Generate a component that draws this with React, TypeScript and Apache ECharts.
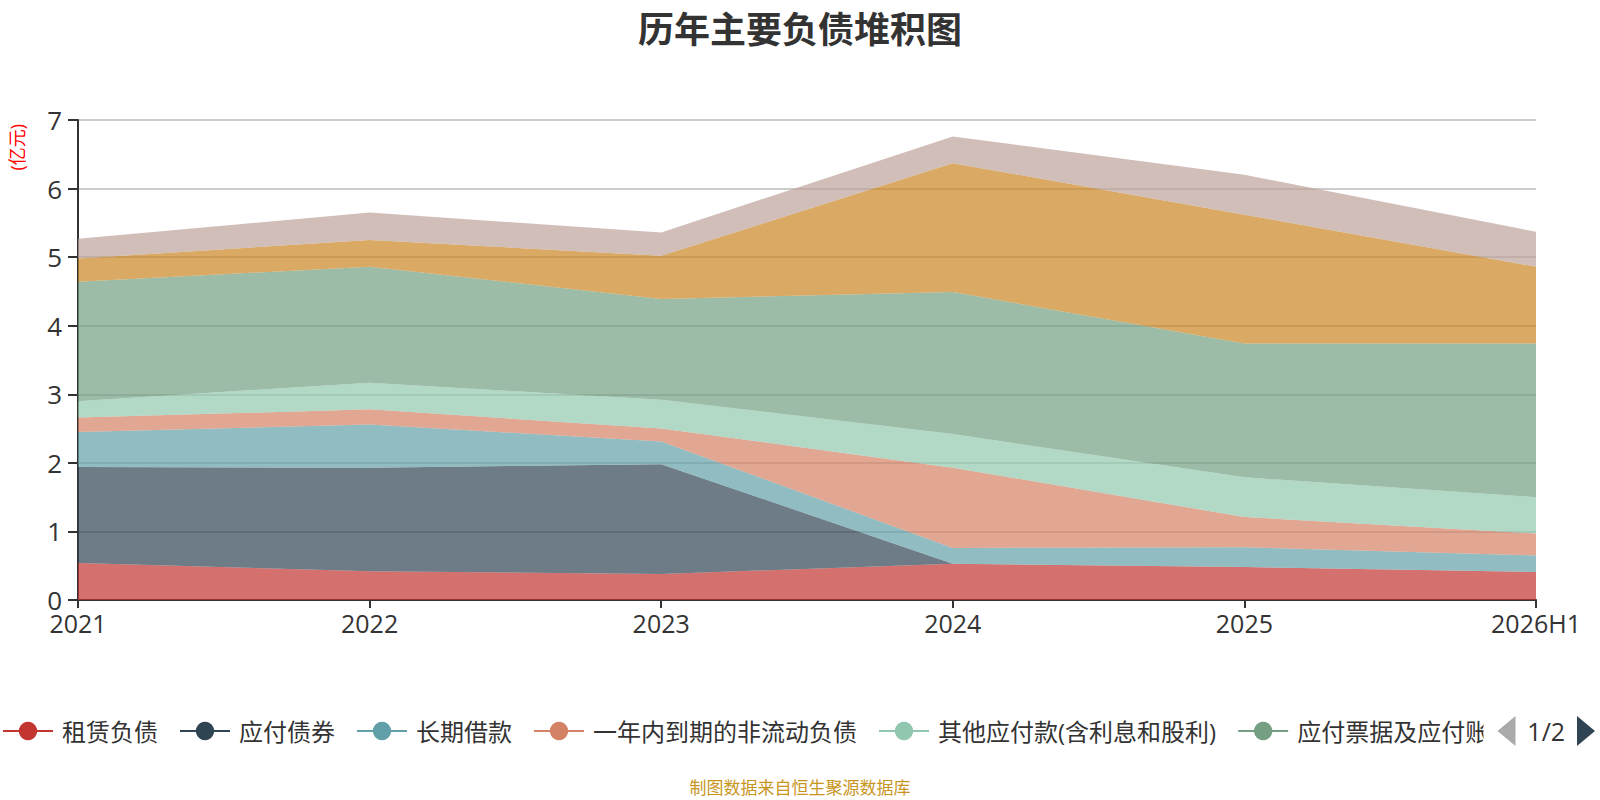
import React, { useEffect, useRef } from "react";
import * as echarts from "echarts";

const categories = ["2021", "2022", "2023", "2024", "2025", "2026H1"];
const seriesNames = [
  "租赁负债",
  "应付债券",
  "长期借款",
  "一年内到期的非流动负债",
  "其他应付款(含利息和股利)",
  "应付票据及应付账款",
  "合同负债",
  "应交税费",
];
const leaseLiab = [0.54, 0.42, 0.38, 0.53, 0.48, 0.41];
const bondsPayable = [1.4, 1.51, 1.6, 0, 0, 0];
const longTermLoans = [0.51, 0.63, 0.33, 0.23, 0.29, 0.24];
const currentNonCurrent = [0.21, 0.22, 0.19, 1.17, 0.44, 0.32];
const otherPayables = [0.24, 0.39, 0.42, 0.49, 0.58, 0.53];
const notesAccountsPayable = [1.74, 1.69, 1.47, 2.07, 1.95, 2.24];
const contractLiab = [0.34, 0.39, 0.63, 1.88, 1.88, 1.12];
const taxesPayable = [0.29, 0.4, 0.34, 0.39, 0.58, 0.51];
const yTicks = [0, 1, 2, 3, 4, 5, 6, 7];

const colors = ["#c23531", "#2f4554", "#61a0a8", "#d48265", "#91c7ae", "#749f83", "#ca8622", "#bda29a"];
const FONT = "'Open Sans', 'Noto Sans CJK SC', sans-serif";

export default function App() {
  const ref = useRef<HTMLDivElement>(null);
  useEffect(() => {
    document.body.style.margin = "0";
    if (!ref.current) return;
    const chart = echarts.init(ref.current, undefined, { renderer: "svg" });
    const data = [
      leaseLiab,
      bondsPayable,
      longTermLoans,
      currentNonCurrent,
      otherPayables,
      notesAccountsPayable,
      contractLiab,
      taxesPayable,
    ];
    chart.setOption({
      animation: false,
      color: colors,
      textStyle: { fontFamily: FONT },
      title: {
        text: "历年主要负债堆积图",
        left: "center",
        top: 6,
        textStyle: { fontSize: 36, fontWeight: "bold", color: "#333", fontFamily: FONT },
      },
      grid: { left: 78, right: 64, top: 120, bottom: 200 },
      legend: {
        type: "scroll",
        bottom: 49,
        left: -3,
        right: -7,
        itemWidth: 50,
        itemHeight: 23,
        itemGap: 21,
        textStyle: { fontSize: 24, color: "#333", padding: [0, 0, 0, 4] },
        lineStyle: { width: 2, opacity: 1 },
        pageIconColor: "#2f4554",
        pageIconInactiveColor: "#aaa",
        pageIconSize: [22, 30],
        pageButtonItemGap: 0,
        pageButtonGap: 14,
        pageTextStyle: { fontSize: 25, color: "#333" },
        data: seriesNames,
      },
      graphic: [
        {
          type: "text",
          left: 8,
          top: 124,
          rotation: Math.PI / 2,
          style: { text: "(亿元)", fill: "#ff0000", fontSize: 18, fontFamily: FONT },
        },
        {
          type: "text",
          left: "center",
          top: 779,
          style: { text: "制图数据来自恒生聚源数据库", fill: "#c8961e", fontSize: 17, fontFamily: FONT },
        },
      ],
      xAxis: {
        type: "category",
        data: categories,
        boundaryGap: false,
        axisLine: { lineStyle: { color: "#333", width: 2 } },
        axisTick: { lineStyle: { color: "#333", width: 2 }, length: 8 },
        axisLabel: { fontSize: 25, color: "#333", margin: 10 },
      },
      yAxis: {
        type: "value",
        min: yTicks[0],
        max: yTicks[yTicks.length - 1],
        interval: 1,
        axisLine: { show: true, lineStyle: { color: "#333", width: 2 } },
        axisTick: { show: true, lineStyle: { color: "#333", width: 2 }, length: 10 },
        axisLabel: { fontSize: 26, color: "#333", margin: 16 },
        splitLine: { lineStyle: { color: "#ccc", width: 2 } },
      },
      series: seriesNames.map((name, i) => ({
        name,
        type: "line",
        stack: "total",
        data: data[i],
        symbol: "circle",
        symbolSize: 8,
        showSymbol: false,
        lineStyle: { width: 0, opacity: 0 },
        areaStyle: { opacity: 0.7 },
      })),
    });
    return () => chart.dispose();
  }, []);
  return <div ref={ref} style={{ width: 1600, height: 800 }} />;
}
